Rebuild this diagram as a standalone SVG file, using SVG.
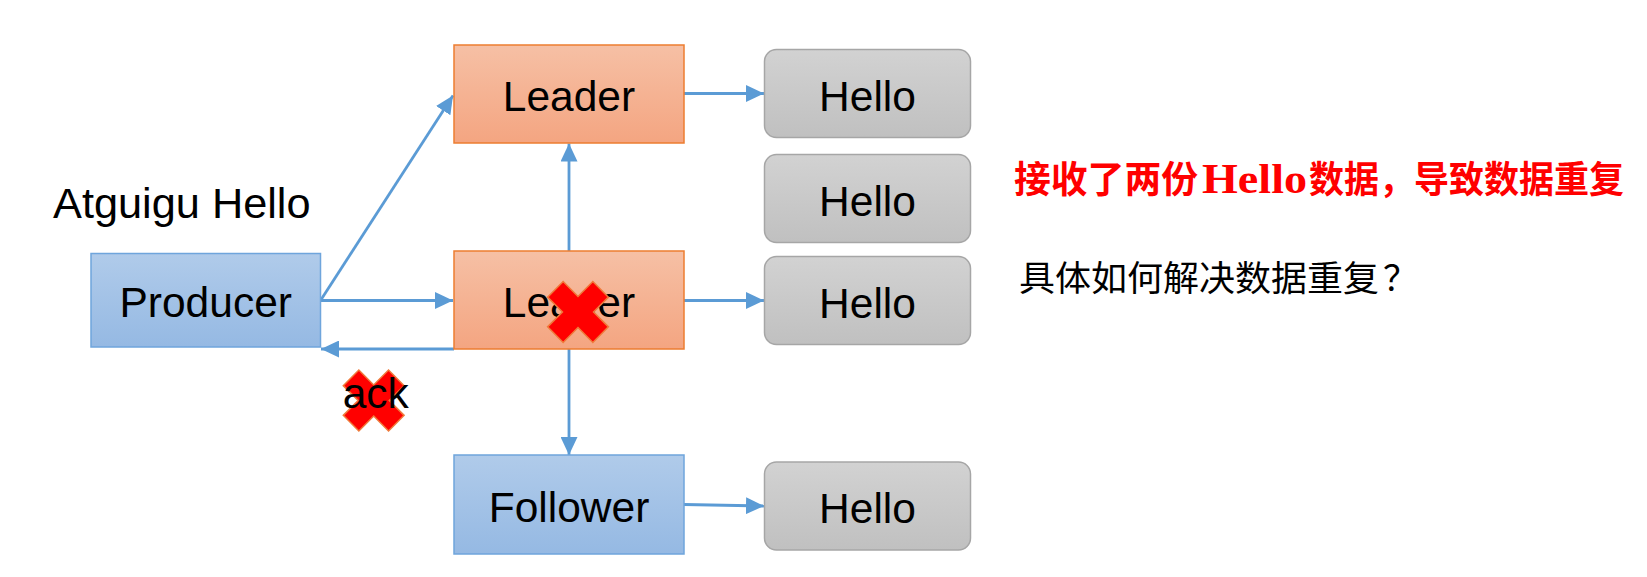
<svg xmlns="http://www.w3.org/2000/svg" width="1647" height="577" viewBox="0 0 1647 577">
  <style>
    .lbl { font-family: "Liberation Sans", Arial, sans-serif; font-size: 42.5px; fill: #000; }
    .mid { text-anchor: middle; }
    .conn { stroke: #5b9bd5; stroke-width: 2.8; fill: none; marker-end: url(#arrow); }
    .leader { fill: url(#gLeader); stroke: #ed7d31; stroke-width: 1.5; }
    .blue { fill: url(#gBlue); stroke: #6fa5dc; stroke-width: 1.5; }
    .hello { fill: url(#gHello); stroke: #a6a6a6; stroke-width: 1.5; }
    .cross { fill: #ff0000; stroke: #f07a3a; stroke-width: 1.5; }
    .cjk-red { font-family: "Noto Sans CJK SC", sans-serif; font-weight: bold; font-size: 37px; fill: #ff0000; }
    .lat-red { font-family: "Liberation Serif", "Times New Roman", serif; font-weight: bold; font-size: 42px; fill: #ff0000; }
    .cjk-black { font-family: "Noto Sans CJK SC", sans-serif; font-size: 35px; fill: #000; }
  </style>
  <defs>
    <linearGradient id="gLeader" x1="0" y1="0" x2="0" y2="1">
      <stop offset="0" stop-color="#f6c0a5"/>
      <stop offset="1" stop-color="#f4a581"/>
    </linearGradient>
    <linearGradient id="gBlue" x1="0" y1="0" x2="0" y2="1">
      <stop offset="0" stop-color="#b0cbea"/>
      <stop offset="1" stop-color="#95b9e3"/>
    </linearGradient>
    <linearGradient id="gHello" x1="0" y1="0" x2="0" y2="1">
      <stop offset="0" stop-color="#d2d2d2"/>
      <stop offset="1" stop-color="#c0c0c0"/>
    </linearGradient>
    <marker id="arrow" markerUnits="userSpaceOnUse" markerWidth="18" markerHeight="17" refX="18" refY="8.5" orient="auto">
      <path d="M0,0 L18,8.5 L0,17 z" fill="#5b9bd5"/>
    </marker>
    <polygon id="xshape" points="11,11 32,11 32,-11 11,-11 11,-32 -11,-32 -11,-11 -32,-11 -32,11 -11,11 -11,32 11,32" transform="rotate(45)"/>
  </defs>

  <g id="connectors">
    <line class="conn" x1="320.5" y1="300.5" x2="453" y2="95.5"/>
    <line class="conn" x1="320.5" y1="300.5" x2="453" y2="300.5"/>
    <line class="conn" x1="454" y1="349" x2="321" y2="349"/>
    <line class="conn" x1="684" y1="93.5" x2="764" y2="93.5"/>
    <line class="conn" x1="569" y1="251" x2="569" y2="143.5"/>
    <line class="conn" x1="684" y1="300.5" x2="764" y2="300.5"/>
    <line class="conn" x1="569" y1="349" x2="569" y2="455"/>
    <line class="conn" x1="684" y1="504.5" x2="764" y2="506"/>
  </g>

  <g id="producer">
    <rect class="blue" x="91" y="253.5" width="229.5" height="93.5"/>
    <text class="lbl mid" x="205.7" y="317.3">Producer</text>
  </g>
  <g id="producer-label">
    <text class="lbl" x="53" y="218.3" style="font-size:43.3px">Atguigu Hello</text>
  </g>

  <g id="leader1">
    <rect class="leader" x="454" y="45" width="230" height="98"/>
    <text class="lbl mid" x="569" y="110.7">Leader</text>
  </g>
  <g id="leader2">
    <rect class="leader" x="454" y="251" width="230" height="98"/>
    <text class="lbl mid" x="569" y="316.5">Leader</text>
  </g>
  <g id="leader2-cross">
    <use href="#xshape" class="cross" transform="translate(578,312)"/>
  </g>
  <g id="follower">
    <rect class="blue" x="454" y="455" width="230" height="99"/>
    <text class="lbl mid" x="569" y="521.5">Follower</text>
  </g>

  <g id="hello1">
    <rect class="hello" x="764.5" y="49.5" width="206" height="88" rx="12"/>
    <text class="lbl mid" x="867.5" y="110.7">Hello</text>
  </g>
  <g id="hello2">
    <rect class="hello" x="764.5" y="154.5" width="206" height="88" rx="12"/>
    <text class="lbl mid" x="867.5" y="215.5">Hello</text>
  </g>
  <g id="hello3">
    <rect class="hello" x="764.5" y="256.5" width="206" height="88" rx="12"/>
    <text class="lbl mid" x="867.5" y="317.5">Hello</text>
  </g>
  <g id="hello4">
    <rect class="hello" x="764.5" y="462" width="206" height="88" rx="12"/>
    <text class="lbl mid" x="867.5" y="523.3">Hello</text>
  </g>

  <g id="ack">
    <use href="#xshape" class="cross" transform="translate(373.7,400.5)"/>
    <text class="lbl" x="342.7" y="408.3">ack</text>
  </g>

  <g id="note-red">
    <text class="cjk-red" x="1014" y="193" textLength="184" lengthAdjust="spacingAndGlyphs">接收了两份</text>
    <text class="lat-red" x="1202" y="193" textLength="105" lengthAdjust="spacingAndGlyphs">Hello</text>
    <text class="cjk-red" x="1309" y="193" textLength="315" lengthAdjust="spacingAndGlyphs">数据，导致数据重复</text>
  </g>
  <g id="note-black">
    <text class="cjk-black" x="1019" y="291" textLength="360" lengthAdjust="spacingAndGlyphs">具体如何解决数据重复</text>
    <text class="cjk-black" x="1383" y="291">？</text>
  </g>
</svg>
